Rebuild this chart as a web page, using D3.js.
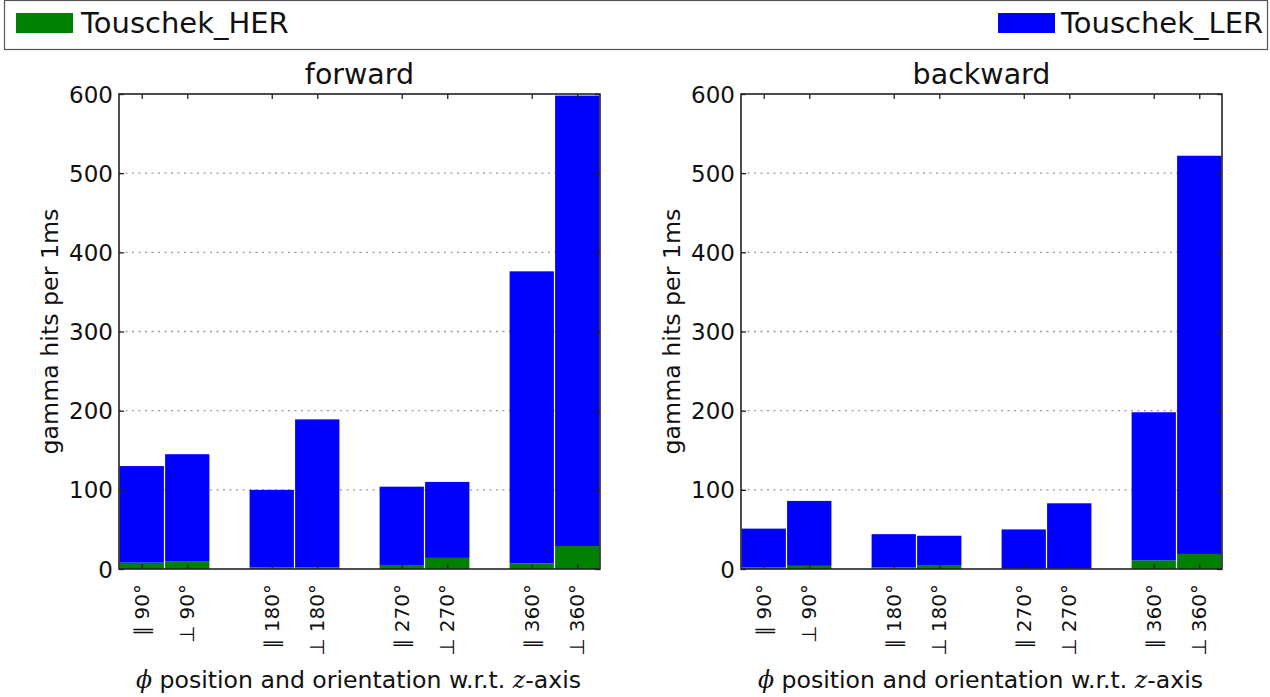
<!DOCTYPE html>
<html>
<head>
<meta charset="utf-8">
<script src="https://cdn.jsdelivr.net/npm/d3@7/dist/d3.min.js"></script>
<style>
  html, body { margin: 0; padding: 0; background: #fff; }
  svg { display: block; }
  text { font-family: "DejaVu Sans", sans-serif; fill: #111; }
</style>
</head>
<body>
<svg id="chart" width="1270" height="697"></svg>
<script>
// Detector positions (phi) and orientation relative to the z-axis
const categories = ["∥ 90°", "⊥ 90°", "∥ 180°", "⊥ 180°", "∥ 270°", "⊥ 270°", "∥ 360°", "⊥ 360°"];

// Gamma hits per 1 ms, forward detectors
const forwardHER = [8, 10, 2, 2, 5, 14, 7, 29];
const forwardLER = [122, 135, 98, 187, 99, 96, 369, 569];

// Gamma hits per 1 ms, backward detectors
const backwardHER = [2, 4, 2, 5, 0.5, 0.5, 11, 19];
const backwardLER = [49, 82, 42, 37, 49.5, 82.5, 187, 503];

const seriesNames = ["Touschek_HER", "Touschek_LER"];
const seriesColors = ["#008000", "#0000ff"];
const yTicks = [0, 100, 200, 300, 400, 500, 600];

const svg = d3.select("#chart");

// Legend strip across the top
svg.append("rect").attr("x", 4.5).attr("y", 0.5).attr("width", 1263).attr("height", 49)
  .attr("fill", "#fff").attr("stroke", "#555").attr("stroke-width", 1.2);
svg.append("rect").attr("x", 16).attr("y", 13).attr("width", 57).attr("height", 20).attr("fill", seriesColors[0]);
svg.append("text").attr("x", 81).attr("y", 33).attr("font-size", 29).text(seriesNames[0]);
svg.append("rect").attr("x", 998).attr("y", 13).attr("width", 57).attr("height", 20).attr("fill", seriesColors[1]);
svg.append("text").attr("x", 1061).attr("y", 33).attr("font-size", 29).text(seriesNames[1]);

const panels = [
  { title: "forward", her: forwardHER, ler: forwardLER, left: 119 },
  { title: "backward", her: backwardHER, ler: backwardLER, left: 741 }
];
const plotW = 481, plotTop = 94, plotBottom = 569;
const barW = 0.35;
const xPos = i => Math.floor(i / 2) + (i % 2) * barW;

panels.forEach(p => {
  const g = svg.append("g");
  const x = d3.scaleLinear().domain([0, 3 + 2 * barW]).range([p.left, p.left + plotW]);
  const y = d3.scaleLinear().domain([0, 600]).range([plotBottom, plotTop]);

  // dotted horizontal grid
  g.append("g").selectAll("line").data(yTicks.slice(1, -1)).join("line")
    .attr("x1", p.left).attr("x2", p.left + plotW)
    .attr("y1", d => y(d)).attr("y2", d => y(d))
    .attr("stroke", "#999").attr("stroke-width", 1.3).attr("stroke-dasharray", "2,4.5");

  // stacked bars: HER at the bottom, LER on top
  const rows = categories.map((c, i) => ({ c, i, her: p.her[i], ler: p.ler[i] }));
  g.append("g").selectAll("rect").data(rows).join("rect")
    .attr("x", d => x(xPos(d.i)) + 0.6)
    .attr("width", d => x(xPos(d.i) + barW) - x(xPos(d.i)) - 1.2)
    .attr("y", d => y(d.her))
    .attr("height", d => y(0) - y(d.her))
    .attr("fill", seriesColors[0]);
  g.append("g").selectAll("rect").data(rows).join("rect")
    .attr("x", d => x(xPos(d.i)) + 0.6)
    .attr("width", d => x(xPos(d.i) + barW) - x(xPos(d.i)) - 1.2)
    .attr("y", d => y(d.her + d.ler))
    .attr("height", d => y(d.her) - y(d.her + d.ler))
    .attr("fill", seriesColors[1]);

  const centers = categories.map((c, i) => xPos(i) + barW / 2);

  // y axis with inward ticks
  const yl = g.append("g").attr("transform", `translate(${p.left},0)`)
    .call(d3.axisLeft(y).tickValues(yTicks).tickSizeInner(-5).tickSizeOuter(0).tickPadding(6));
  yl.selectAll("text").attr("font-size", 23).attr("fill", "#111")
    .attr("font-family", "DejaVu Sans, sans-serif").attr("dy", "0.35em");
  const yr = g.append("g").attr("transform", `translate(${p.left + plotW},0)`)
    .call(d3.axisRight(y).tickValues(yTicks).tickSizeInner(-5).tickSizeOuter(0).tickFormat(""));

  // x axis: ticks at bar centres, rotated category labels
  const xb = g.append("g").attr("transform", `translate(0,${plotBottom})`)
    .call(d3.axisBottom(x).tickValues(centers).tickSizeInner(-5).tickSizeOuter(0).tickFormat(""));
  const xt = g.append("g").attr("transform", `translate(0,${plotTop})`)
    .call(d3.axisTop(x).tickValues(centers).tickSizeInner(-5).tickSizeOuter(0).tickFormat(""));
  [yl, yr, xb, xt].forEach(a => {
    a.select(".domain").remove();
    a.selectAll(".tick line").attr("stroke", "#222").attr("stroke-width", 1.3);
  });

  g.append("g").selectAll("text").data(categories).join("text")
    .attr("transform", (d, i) => `translate(${x(centers[i])},${plotBottom + 15}) rotate(-90)`)
    .attr("text-anchor", "end").attr("dy", "0.35em")
    .attr("font-family", "DejaVu Serif, serif").attr("font-size", 20)
    .text(d => d);

  // frame
  g.append("rect").attr("x", p.left).attr("y", plotTop).attr("width", plotW).attr("height", plotBottom - plotTop)
    .attr("fill", "none").attr("stroke", "#222").attr("stroke-width", 1.6);

  // title
  g.append("text").attr("x", p.left + plotW / 2).attr("y", 84)
    .attr("text-anchor", "middle").attr("font-size", 28.5).text(p.title);

  // axis labels
  g.append("text").attr("transform", `translate(${p.left - 61},${(plotTop + plotBottom) / 2}) rotate(-90)`)
    .attr("text-anchor", "middle").attr("font-size", 23.7).text("gamma hits per 1ms");

  const xl = g.append("text").attr("x", p.left + plotW / 2 - 1).attr("y", 688)
    .attr("text-anchor", "middle").attr("font-size", 23.6);
  xl.append("tspan").attr("font-family", "DejaVu Serif, serif").attr("font-style", "italic").text("ϕ");
  xl.append("tspan").text(" position and orientation w.r.t. ");
  xl.append("tspan").attr("font-family", "DejaVu Serif, serif").attr("font-style", "italic").text("z");
  xl.append("tspan").text("-axis");
});
</script>
</body>
</html>
